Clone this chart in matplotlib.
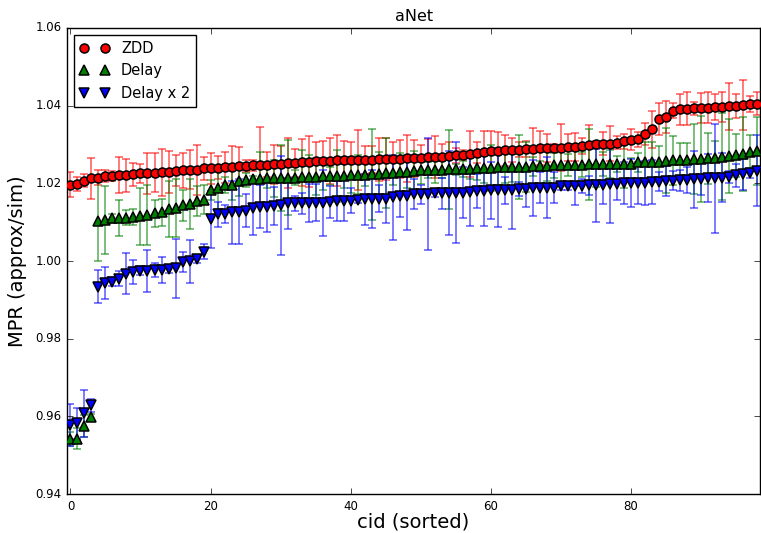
import matplotlib
matplotlib.use("Agg")
import matplotlib.pyplot as plt
import numpy as np

plt.style.use('classic')

# ZDD
zdd = [1.0197, 1.0198, 1.0207, 1.0213, 1.0215, 1.0219, 1.0219, 1.0221, 1.0221, 1.0223,
       1.0226, 1.0226, 1.0227, 1.0228, 1.0229, 1.0232, 1.0234, 1.0235, 1.0235, 1.0239,
       1.0239, 1.0240, 1.0241, 1.0242, 1.0244, 1.0245, 1.0246, 1.0247, 1.0248, 1.0249,
       1.0250, 1.0252, 1.0253, 1.0254, 1.0256, 1.0257, 1.0258, 1.0258, 1.0259, 1.0260,
       1.0260, 1.0260, 1.0261, 1.0261, 1.0262, 1.0262, 1.0263, 1.0263, 1.0264, 1.0264,
       1.0265, 1.0267, 1.0267, 1.0268, 1.0270, 1.0272, 1.0274, 1.0276, 1.0279, 1.0282,
       1.0284, 1.0284, 1.0285, 1.0286, 1.0287, 1.0288, 1.0289, 1.0290, 1.0291, 1.0291,
       1.0292, 1.0293, 1.0294, 1.0296, 1.0298, 1.0301, 1.0302, 1.0302, 1.0305, 1.0308,
       1.0312, 1.0313, 1.0327, 1.0339, 1.0366, 1.0370, 1.0387, 1.0391, 1.0392, 1.0393,
       1.0394, 1.0395, 1.0396, 1.0397, 1.0398, 1.0399, 1.0402, 1.0404, 1.0405]
zdd_err = [0.0032, 0.0018, 0.0016, 0.0052, 0.0020, 0.0016, 0.0014, 0.0047, 0.0042, 0.0030,
           0.0025, 0.0053, 0.0050, 0.0060, 0.0055, 0.0040, 0.0045, 0.0050, 0.0065, 0.0030,
           0.0040, 0.0030, 0.0040, 0.0055, 0.0050, 0.0016, 0.0014, 0.0098, 0.0032, 0.0050,
           0.0045, 0.0065, 0.0036, 0.0060, 0.0065, 0.0050, 0.0050, 0.0060, 0.0065, 0.0050,
           0.0047, 0.0077, 0.0036, 0.0034, 0.0055, 0.0054, 0.0044, 0.0048, 0.0060, 0.0047,
           0.0033, 0.0046, 0.0054, 0.0033, 0.0036, 0.0020, 0.0013, 0.0060, 0.0027, 0.0053,
           0.0050, 0.0047, 0.0040, 0.0032, 0.0020, 0.0020, 0.0054, 0.0044, 0.0036, 0.0010,
           0.0060, 0.0035, 0.0036, 0.0020, 0.0052, 0.0008, 0.0030, 0.0045, 0.0016, 0.0019,
           0.0027, 0.0020, 0.0028, 0.0047, 0.0041, 0.0041, 0.0020, 0.0040, 0.0042, 0.0016,
           0.0038, 0.0040, 0.0034, 0.0038, 0.0060, 0.0030, 0.0065, 0.0020, 0.0029]

# Delay
delay = [0.9543, 0.9543, 0.9575, 0.9599, 1.0103, 1.0105, 1.0110, 1.0111, 1.0112, 1.0113,
         1.0115, 1.0119, 1.0123, 1.0126, 1.0133, 1.0137, 1.0143, 1.0147, 1.0155, 1.0158,
         1.0183, 1.0189, 1.0196, 1.0197, 1.0207, 1.0209, 1.0211, 1.0212, 1.0213, 1.0213,
         1.0214, 1.0215, 1.0215, 1.0216, 1.0216, 1.0217, 1.0218, 1.0218, 1.0219, 1.0219,
         1.0221, 1.0222, 1.0222, 1.0223, 1.0224, 1.0226, 1.0227, 1.0228, 1.0230, 1.0232,
         1.0234, 1.0234, 1.0235, 1.0235, 1.0236, 1.0236, 1.0237, 1.0238, 1.0239, 1.0240,
         1.0240, 1.0241, 1.0241, 1.0242, 1.0243, 1.0243, 1.0244, 1.0245, 1.0245, 1.0246,
         1.0247, 1.0247, 1.0248, 1.0248, 1.0249, 1.0249, 1.0250, 1.0250, 1.0250, 1.0250,
         1.0251, 1.0254, 1.0255, 1.0255, 1.0256, 1.0258, 1.0259, 1.0260, 1.0261, 1.0262,
         1.0263, 1.0264, 1.0266, 1.0269, 1.0270, 1.0272, 1.0275, 1.0282, 1.0284]
delay_err = [0.0018, 0.0028, 0.0028, 0.0008, 0.0103, 0.0087, 0.0012, 0.0046, 0.0020, 0.0020,
             0.0073, 0.0077, 0.0035, 0.0035, 0.0072, 0.0075, 0.0040, 0.0065, 0.0039, 0.0038,
             0.0026, 0.0054, 0.0020, 0.0040, 0.0040, 0.0018, 0.0008, 0.0070, 0.0024, 0.0047,
             0.0086, 0.0096, 0.0020, 0.0069, 0.0057, 0.0048, 0.0035, 0.0023, 0.0067, 0.0030,
             0.0047, 0.0050, 0.0030, 0.0118, 0.0056, 0.0090, 0.0030, 0.0050, 0.0043, 0.0052,
             0.0035, 0.0020, 0.0034, 0.0022, 0.0102, 0.0015, 0.0020, 0.0026, 0.0030, 0.0040,
             0.0060, 0.0045, 0.0041, 0.0039, 0.0082, 0.0064, 0.0024, 0.0013, 0.0039, 0.0032,
             0.0053, 0.0028, 0.0054, 0.0032, 0.0092, 0.0058, 0.0030, 0.0036, 0.0020, 0.0062,
             0.0015, 0.0024, 0.0052, 0.0052, 0.0039, 0.0084, 0.0064, 0.0043, 0.0044, 0.0090,
             0.0110, 0.0065, 0.0043, 0.0112, 0.0096, 0.0056, 0.0095, 0.0043, 0.0087]

# Delay x 2
delay2 = [0.9578, 0.9582, 0.9608, 0.9629, 0.9934, 0.9944, 0.9947, 0.9955, 0.9967, 0.9972,
          0.9975, 0.9975, 0.9977, 0.9977, 0.9979, 0.9981, 0.9998, 0.9999, 1.0004, 1.0024,
          1.0107, 1.0120, 1.0120, 1.0125, 1.0127, 1.0130, 1.0137, 1.0140, 1.0140, 1.0142,
          1.0143, 1.0149, 1.0149, 1.0149, 1.0149, 1.0150, 1.0150, 1.0153, 1.0154, 1.0155,
          1.0155, 1.0156, 1.0159, 1.0159, 1.0161, 1.0161, 1.0164, 1.0167, 1.0167, 1.0172,
          1.0172, 1.0172, 1.0174, 1.0174, 1.0176, 1.0176, 1.0176, 1.0178, 1.0181, 1.0181,
          1.0182, 1.0182, 1.0182, 1.0183, 1.0185, 1.0186, 1.0188, 1.0189, 1.0189, 1.0189,
          1.0193, 1.0193, 1.0193, 1.0193, 1.0195, 1.0195, 1.0195, 1.0198, 1.0199, 1.0200,
          1.0200, 1.0201, 1.0201, 1.0203, 1.0204, 1.0206, 1.0207, 1.0208, 1.0209, 1.0210,
          1.0212, 1.0213, 1.0213, 1.0215, 1.0217, 1.0221, 1.0223, 1.0226, 1.0233]
delay2_err = [0.0055, 0.0040, 0.0060, 0.0017, 0.0043, 0.0041, 0.0011, 0.0019, 0.0053, 0.0031,
              0.0012, 0.0054, 0.0019, 0.0034, 0.0010, 0.0076, 0.0025, 0.0056, 0.0009, 0.0019,
              0.0073, 0.0032, 0.0023, 0.0081, 0.0084, 0.0043, 0.0070, 0.0055, 0.0066, 0.0048,
              0.0127, 0.0066, 0.0019, 0.0027, 0.0049, 0.0048, 0.0085, 0.0041, 0.0051, 0.0053,
              0.0032, 0.0007, 0.0066, 0.0075, 0.0034, 0.0063, 0.0110, 0.0053, 0.0087, 0.0038,
              0.0024, 0.0144, 0.0008, 0.0041, 0.0108, 0.0130, 0.0065, 0.0088, 0.0044, 0.0091,
              0.0073, 0.0094, 0.0035, 0.0101, 0.0018, 0.0046, 0.0071, 0.0039, 0.0078, 0.0039,
              0.0011, 0.0009, 0.0048, 0.0018, 0.0025, 0.0094, 0.0049, 0.0100, 0.0042, 0.0054,
              0.0062, 0.0054, 0.0057, 0.0056, 0.0024, 0.0039, 0.0024, 0.0027, 0.0034, 0.0073,
              0.0042, 0.0062, 0.0140, 0.0064, 0.0016, 0.0030, 0.0039, 0.0012, 0.0091]

cid = np.arange(len(zdd))

fig = plt.figure(figsize=(7.61, 5.33), dpi=100, facecolor='white')
ax = fig.add_axes([0.088, 0.073, 0.911, 0.8745])

series = [(zdd, zdd_err, 'r', 'o', 'ZDD'),
          (delay, delay_err, 'g', '^', 'Delay'),
          (delay2, delay2_err, 'b', 'v', 'Delay x 2')]

for y, e, c, m, lab in series:
    ax.errorbar(cid, y, yerr=e, fmt='none', ecolor=c, alpha=0.6, capsize=3,
                elinewidth=1.2, capthick=1.2, zorder=1)
for y, e, c, m, lab in series:
    ax.plot(cid, y, linestyle='none', marker=m, color=c, markeredgecolor='k',
            markeredgewidth=1.1, markersize=6.5, label=lab, zorder=3)

ax.set_xlim(-0.5, 98.5)
ax.set_ylim(0.94, 1.06)
ax.set_xticks([0, 20, 40, 60, 80])
ax.set_yticks(np.arange(0.94, 1.0601, 0.02))
ax.set_yticklabels(['0.94', '0.96', '0.98', '1.00', '1.02', '1.04', '1.06'])
ax.tick_params(labelsize=8.5)
ax.set_title('aNet', fontsize=11.5)
ax.set_xlabel('cid (sorted)', fontsize=14, labelpad=0)
ax.set_ylabel('MPR (approx/sim)', fontsize=14, labelpad=6)
ax.legend(loc='upper left', numpoints=2, fontsize=10.5, borderaxespad=0.5)

fig.savefig('out.png', dpi=100, facecolor='white')
